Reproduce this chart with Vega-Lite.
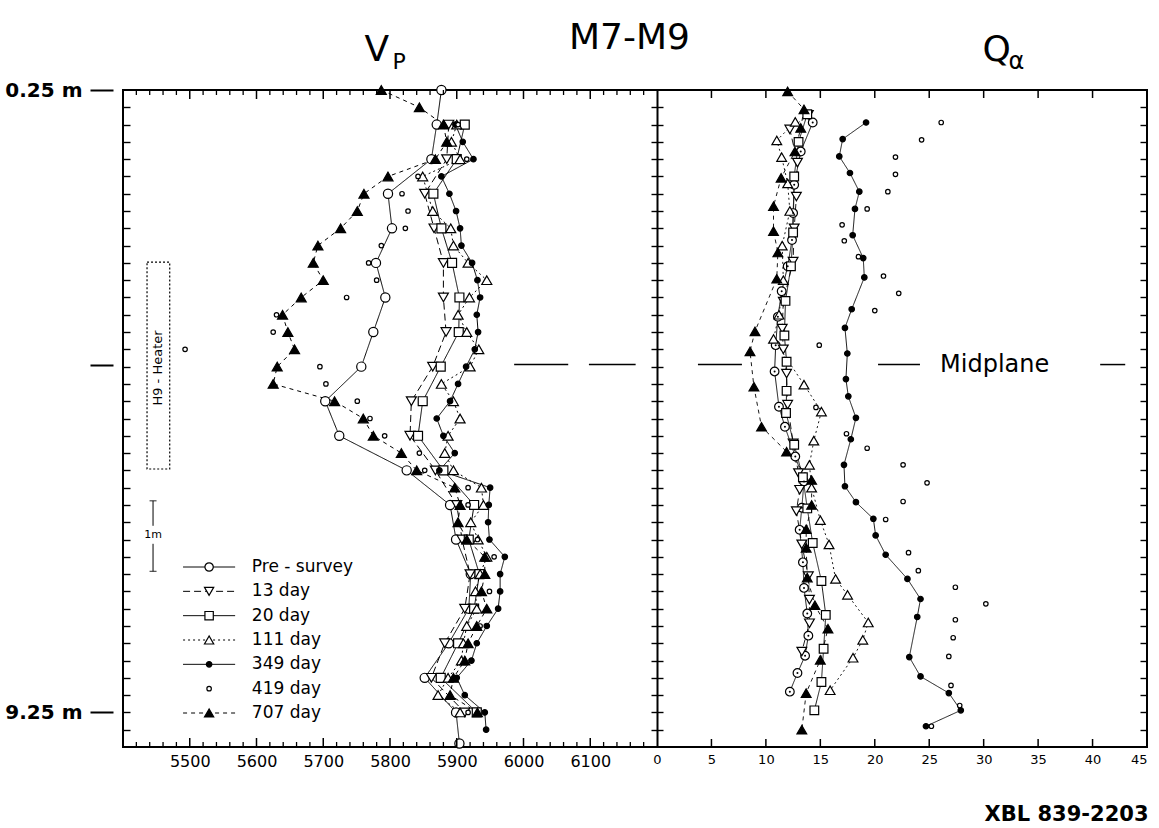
{
  "$schema": "https://vega.github.io/schema/vega-lite/v6.json",
  "width": 1024,
  "height": 657,
  "autosize": {"type": "none"},
  "padding": {"left": 123, "top": 90, "right": 12, "bottom": 81},
  "background": "white",
  "config": {
    "font": "DejaVu Sans",
    "view": {"stroke": "black", "strokeWidth": 2},
    "axis": {"grid": false, "domain": false, "labelFont": "DejaVu Sans", "labelColor": "black", "tickColor": "black", "tickWidth": 1.4, "titleFont": "DejaVu Sans", "titleColor": "black", "titleFontWeight": "normal", "labelFlush": false}
  },
  "datasets": {
    "legend": [{"series":"Pre - survey"},{"series":"13 day"},{"series":"20 day"},{"series":"111 day"},{"series":"349 day"},{"series":"419 day"},{"series":"707 day"}],
    "vpticks": [{"tick":5500,"kind":"major","edges":["top","bottom"]},{"tick":5600,"kind":"major","edges":["top","bottom"]},{"tick":5700,"kind":"major","edges":["top","bottom"]},{"tick":5800,"kind":"major","edges":["top","bottom"]},{"tick":5900,"kind":"major","edges":["top","bottom"]},{"tick":6000,"kind":"major","edges":["top","bottom"]},{"tick":6100,"kind":"major","edges":["top","bottom"]},
      {"tick":5420,"kind":"minor","edges":["top","bottom"]},{"tick":5440,"kind":"minor","edges":["top","bottom"]},{"tick":5460,"kind":"minor","edges":["top","bottom"]},{"tick":5480,"kind":"minor","edges":["top","bottom"]},{"tick":5520,"kind":"minor","edges":["top","bottom"]},{"tick":5540,"kind":"minor","edges":["top","bottom"]},{"tick":5560,"kind":"minor","edges":["top","bottom"]},{"tick":5580,"kind":"minor","edges":["top","bottom"]},{"tick":5620,"kind":"minor","edges":["top","bottom"]},{"tick":5640,"kind":"minor","edges":["top","bottom"]},{"tick":5660,"kind":"minor","edges":["top","bottom"]},{"tick":5680,"kind":"minor","edges":["top","bottom"]},{"tick":5720,"kind":"minor","edges":["top","bottom"]},{"tick":5740,"kind":"minor","edges":["top","bottom"]},{"tick":5760,"kind":"minor","edges":["top","bottom"]},{"tick":5780,"kind":"minor","edges":["top","bottom"]},{"tick":5820,"kind":"minor","edges":["top","bottom"]},{"tick":5840,"kind":"minor","edges":["top","bottom"]},{"tick":5860,"kind":"minor","edges":["top","bottom"]},{"tick":5880,"kind":"minor","edges":["top","bottom"]},{"tick":5920,"kind":"minor","edges":["top","bottom"]},{"tick":5940,"kind":"minor","edges":["top","bottom"]},{"tick":5960,"kind":"minor","edges":["top","bottom"]},{"tick":5980,"kind":"minor","edges":["top","bottom"]},{"tick":6020,"kind":"minor","edges":["top","bottom"]},{"tick":6040,"kind":"minor","edges":["top","bottom"]},{"tick":6060,"kind":"minor","edges":["top","bottom"]},{"tick":6080,"kind":"minor","edges":["top","bottom"]},{"tick":6120,"kind":"minor","edges":["top","bottom"]},{"tick":6140,"kind":"minor","edges":["top","bottom"]},{"tick":6160,"kind":"minor","edges":["top","bottom"]},{"tick":6180,"kind":"minor","edges":["top","bottom"]}],
    "qticks": [{"tick":5,"edges":["top","bottom"]},{"tick":10,"edges":["top","bottom"]},{"tick":15,"edges":["top","bottom"]},{"tick":20,"edges":["top","bottom"]},{"tick":25,"edges":["top","bottom"]},{"tick":30,"edges":["top","bottom"]},{"tick":35,"edges":["top","bottom"]},{"tick":40,"edges":["top","bottom"]}],
    "vp": [
      {"series":"Pre - survey","depth":0.25,"value":5877},{"series":"Pre - survey","depth":0.75,"value":5870},{"series":"Pre - survey","depth":1.25,"value":5862},{"series":"Pre - survey","depth":1.75,"value":5797},{"series":"Pre - survey","depth":2.25,"value":5803},{"series":"Pre - survey","depth":2.75,"value":5779},{"series":"Pre - survey","depth":3.25,"value":5793},{"series":"Pre - survey","depth":3.75,"value":5775},{"series":"Pre - survey","depth":4.25,"value":5757},{"series":"Pre - survey","depth":4.75,"value":5703},{"series":"Pre - survey","depth":5.25,"value":5724},{"series":"Pre - survey","depth":5.75,"value":5825},{"series":"Pre - survey","depth":6.25,"value":5890},{"series":"Pre - survey","depth":6.75,"value":5899},{"series":"Pre - survey","depth":7.25,"value":5921},{"series":"Pre - survey","depth":7.75,"value":5918},{"series":"Pre - survey","depth":8.25,"value":5888},{"series":"Pre - survey","depth":8.75,"value":5852},{"series":"Pre - survey","depth":9.25,"value":5899},{"series":"Pre - survey","depth":9.7,"value":5904},
      {"series":"13 day","depth":0.75,"value":5888},{"series":"13 day","depth":1.25,"value":5885},{"series":"13 day","depth":1.75,"value":5852},{"series":"13 day","depth":2.25,"value":5866},{"series":"13 day","depth":2.75,"value":5880},{"series":"13 day","depth":3.25,"value":5880},{"series":"13 day","depth":3.75,"value":5884},{"series":"13 day","depth":4.25,"value":5864},{"series":"13 day","depth":4.75,"value":5832},{"series":"13 day","depth":5.25,"value":5830},{"series":"13 day","depth":5.75,"value":5868},{"series":"13 day","depth":6.25,"value":5900},{"series":"13 day","depth":6.75,"value":5908},{"series":"13 day","depth":7.25,"value":5920},{"series":"13 day","depth":7.75,"value":5912},{"series":"13 day","depth":8.25,"value":5882},{"series":"13 day","depth":8.75,"value":5862},{"series":"13 day","depth":9.25,"value":5912},
      {"series":"20 day","depth":0.75,"value":5912},{"series":"20 day","depth":1.25,"value":5900},{"series":"20 day","depth":1.75,"value":5865},{"series":"20 day","depth":2.25,"value":5877},{"series":"20 day","depth":2.75,"value":5893},{"series":"20 day","depth":3.25,"value":5904},{"series":"20 day","depth":3.75,"value":5903},{"series":"20 day","depth":4.25,"value":5876},{"series":"20 day","depth":4.75,"value":5849},{"series":"20 day","depth":5.25,"value":5842},{"series":"20 day","depth":5.75,"value":5880},{"series":"20 day","depth":6.25,"value":5926},{"series":"20 day","depth":6.75,"value":5918},{"series":"20 day","depth":7.25,"value":5934},{"series":"20 day","depth":7.75,"value":5926},{"series":"20 day","depth":8.25,"value":5902},{"series":"20 day","depth":8.75,"value":5876},{"series":"20 day","depth":9.25,"value":5930},
      {"series":"111 day","depth":0.75,"value":5900},{"series":"111 day","depth":1.0,"value":5892},{"series":"111 day","depth":1.25,"value":5905},{"series":"111 day","depth":1.5,"value":5849},{"series":"111 day","depth":2.0,"value":5864},{"series":"111 day","depth":2.25,"value":5891},{"series":"111 day","depth":2.5,"value":5895},{"series":"111 day","depth":2.75,"value":5917},{"series":"111 day","depth":3.0,"value":5945},{"series":"111 day","depth":3.25,"value":5919},{"series":"111 day","depth":3.5,"value":5902},{"series":"111 day","depth":3.75,"value":5915},{"series":"111 day","depth":4.0,"value":5933},{"series":"111 day","depth":4.25,"value":5920},{"series":"111 day","depth":4.5,"value":5877},{"series":"111 day","depth":4.75,"value":5895},{"series":"111 day","depth":5.0,"value":5905},{"series":"111 day","depth":5.25,"value":5887},{"series":"111 day","depth":5.5,"value":5882},{"series":"111 day","depth":5.75,"value":5895},{"series":"111 day","depth":6.0,"value":5937},{"series":"111 day","depth":6.25,"value":5940},{"series":"111 day","depth":6.5,"value":5921},{"series":"111 day","depth":6.75,"value":5932},{"series":"111 day","depth":7.0,"value":5945},{"series":"111 day","depth":7.25,"value":5935},{"series":"111 day","depth":7.5,"value":5928},{"series":"111 day","depth":7.75,"value":5930},{"series":"111 day","depth":8.0,"value":5915},{"series":"111 day","depth":8.25,"value":5910},{"series":"111 day","depth":8.5,"value":5907},{"series":"111 day","depth":8.75,"value":5887},{"series":"111 day","depth":9.0,"value":5872},{"series":"111 day","depth":9.25,"value":5905},
      {"series":"349 day","depth":0.75,"value":5898},{"series":"349 day","depth":1.0,"value":5909},{"series":"349 day","depth":1.25,"value":5925},{"series":"349 day","depth":1.5,"value":5877},{"series":"349 day","depth":1.75,"value":5889},{"series":"349 day","depth":2.0,"value":5899},{"series":"349 day","depth":2.25,"value":5905},{"series":"349 day","depth":2.5,"value":5907},{"series":"349 day","depth":2.75,"value":5923},{"series":"349 day","depth":3.0,"value":5931},{"series":"349 day","depth":3.25,"value":5935},{"series":"349 day","depth":3.5,"value":5930},{"series":"349 day","depth":3.75,"value":5932},{"series":"349 day","depth":4.0,"value":5927},{"series":"349 day","depth":4.25,"value":5914},{"series":"349 day","depth":4.5,"value":5902},{"series":"349 day","depth":4.75,"value":5890},{"series":"349 day","depth":5.0,"value":5870},{"series":"349 day","depth":5.25,"value":5880},{"series":"349 day","depth":5.5,"value":5897},{"series":"349 day","depth":5.75,"value":5874},{"series":"349 day","depth":6.0,"value":5950},{"series":"349 day","depth":6.25,"value":5948},{"series":"349 day","depth":6.5,"value":5947},{"series":"349 day","depth":6.75,"value":5949},{"series":"349 day","depth":7.0,"value":5972},{"series":"349 day","depth":7.25,"value":5965},{"series":"349 day","depth":7.5,"value":5965},{"series":"349 day","depth":7.75,"value":5962},{"series":"349 day","depth":8.0,"value":5945},{"series":"349 day","depth":8.25,"value":5930},{"series":"349 day","depth":8.5,"value":5922},{"series":"349 day","depth":8.75,"value":5900},{"series":"349 day","depth":9.0,"value":5912},{"series":"349 day","depth":9.25,"value":5942},{"series":"349 day","depth":9.5,"value":5944},
      {"series":"419 day","depth":0.75,"value":5902},{"series":"419 day","depth":1.25,"value":5915},{"series":"419 day","depth":1.5,"value":5842},{"series":"419 day","depth":1.75,"value":5818},{"series":"419 day","depth":2.0,"value":5827},{"series":"419 day","depth":2.25,"value":5823},{"series":"419 day","depth":2.5,"value":5787},{"series":"419 day","depth":2.75,"value":5768},{"series":"419 day","depth":3.0,"value":5780},{"series":"419 day","depth":3.25,"value":5735},{"series":"419 day","depth":3.5,"value":5630},{"series":"419 day","depth":3.75,"value":5625},{"series":"419 day","depth":4.0,"value":5493},{"series":"419 day","depth":4.25,"value":5695},{"series":"419 day","depth":4.5,"value":5704},{"series":"419 day","depth":4.75,"value":5751},{"series":"419 day","depth":5.0,"value":5770},{"series":"419 day","depth":5.25,"value":5792},{"series":"419 day","depth":5.5,"value":5844},{"series":"419 day","depth":5.75,"value":5852},{"series":"419 day","depth":6.0,"value":5917},{"series":"419 day","depth":6.25,"value":5917},{"series":"419 day","depth":6.75,"value":5931},{"series":"419 day","depth":7.0,"value":5956},{"series":"419 day","depth":7.5,"value":5949},{"series":"419 day","depth":8.0,"value":5935},{"series":"419 day","depth":9.25,"value":5917},
      {"series":"707 day","depth":0.25,"value":5787},{"series":"707 day","depth":0.5,"value":5844},{"series":"707 day","depth":0.75,"value":5880},{"series":"707 day","depth":1.0,"value":5885},{"series":"707 day","depth":1.25,"value":5868},{"series":"707 day","depth":1.5,"value":5797},{"series":"707 day","depth":1.75,"value":5761},{"series":"707 day","depth":2.0,"value":5751},{"series":"707 day","depth":2.25,"value":5726},{"series":"707 day","depth":2.5,"value":5692},{"series":"707 day","depth":2.75,"value":5685},{"series":"707 day","depth":3.0,"value":5700},{"series":"707 day","depth":3.25,"value":5667},{"series":"707 day","depth":3.5,"value":5639},{"series":"707 day","depth":3.75,"value":5647},{"series":"707 day","depth":4.0,"value":5657},{"series":"707 day","depth":4.25,"value":5631},{"series":"707 day","depth":4.5,"value":5625},{"series":"707 day","depth":4.75,"value":5717},{"series":"707 day","depth":5.0,"value":5760},{"series":"707 day","depth":5.25,"value":5775},{"series":"707 day","depth":5.5,"value":5817},{"series":"707 day","depth":5.75,"value":5840},{"series":"707 day","depth":6.0,"value":5897},{"series":"707 day","depth":6.25,"value":5905},{"series":"707 day","depth":6.5,"value":5902},{"series":"707 day","depth":6.75,"value":5915},{"series":"707 day","depth":7.0,"value":5942},{"series":"707 day","depth":7.25,"value":5942},{"series":"707 day","depth":7.5,"value":5937},{"series":"707 day","depth":7.75,"value":5945},{"series":"707 day","depth":8.0,"value":5930},{"series":"707 day","depth":8.25,"value":5917},{"series":"707 day","depth":8.5,"value":5912},{"series":"707 day","depth":8.75,"value":5895},{"series":"707 day","depth":9.0,"value":5890},{"series":"707 day","depth":9.25,"value":5931}
    ],
    "qa": [
      {"series":"Pre - survey","depth":0.72,"value":14.3},{"series":"Pre - survey","depth":1.14,"value":13.2},{"series":"Pre - survey","depth":1.62,"value":12.6},{"series":"Pre - survey","depth":2.03,"value":12.5},{"series":"Pre - survey","depth":2.42,"value":12.4},{"series":"Pre - survey","depth":2.8,"value":12.0},{"series":"Pre - survey","depth":3.16,"value":11.45},{"series":"Pre - survey","depth":3.53,"value":11.1},{"series":"Pre - survey","depth":3.94,"value":10.9},{"series":"Pre - survey","depth":4.32,"value":10.8},{"series":"Pre - survey","depth":4.83,"value":11.2},{"series":"Pre - survey","depth":5.12,"value":11.75},{"series":"Pre - survey","depth":5.55,"value":12.7},{"series":"Pre - survey","depth":5.91,"value":13.5},{"series":"Pre - survey","depth":6.29,"value":13.3},{"series":"Pre - survey","depth":6.61,"value":13.1},{"series":"Pre - survey","depth":7.08,"value":13.4},{"series":"Pre - survey","depth":7.45,"value":13.5},{"series":"Pre - survey","depth":7.82,"value":13.8},{"series":"Pre - survey","depth":8.14,"value":13.9},{"series":"Pre - survey","depth":8.43,"value":13.6},{"series":"Pre - survey","depth":8.68,"value":12.9},{"series":"Pre - survey","depth":8.95,"value":12.2},
      {"series":"13 day","depth":0.61,"value":13.9},{"series":"13 day","depth":0.82,"value":12.2},{"series":"13 day","depth":1.3,"value":12.9},{"series":"13 day","depth":1.79,"value":12.8},{"series":"13 day","depth":2.25,"value":12.6},{"series":"13 day","depth":2.73,"value":12.5},{"series":"13 day","depth":3.31,"value":11.6},{"series":"13 day","depth":3.7,"value":11.5},{"series":"13 day","depth":4.0,"value":11.6},{"series":"13 day","depth":4.35,"value":11.9},{"series":"13 day","depth":4.8,"value":12.0},{"series":"13 day","depth":5.36,"value":12.5},{"series":"13 day","depth":5.79,"value":13.0},{"series":"13 day","depth":6.03,"value":13.1},{"series":"13 day","depth":6.34,"value":12.8},{"series":"13 day","depth":6.82,"value":13.3},{"series":"13 day","depth":7.28,"value":13.9},{"series":"13 day","depth":7.62,"value":14.0},{"series":"13 day","depth":7.96,"value":14.0},{"series":"13 day","depth":8.37,"value":13.3},
      {"series":"20 day","depth":0.6,"value":13.8},{"series":"20 day","depth":1.0,"value":13.0},{"series":"20 day","depth":1.5,"value":12.6},{"series":"20 day","depth":2.31,"value":12.5},{"series":"20 day","depth":2.8,"value":12.3},{"series":"20 day","depth":3.3,"value":11.8},{"series":"20 day","depth":3.8,"value":11.7},{"series":"20 day","depth":4.18,"value":11.9},{"series":"20 day","depth":4.6,"value":11.9},{"series":"20 day","depth":4.92,"value":11.85},{"series":"20 day","depth":5.38,"value":12.6},{"series":"20 day","depth":5.85,"value":13.4},{"series":"20 day","depth":6.3,"value":13.8},{"series":"20 day","depth":6.8,"value":14.3},{"series":"20 day","depth":7.35,"value":15.1},{"series":"20 day","depth":7.84,"value":15.5},{"series":"20 day","depth":8.33,"value":15.3},{"series":"20 day","depth":8.81,"value":15.1},{"series":"20 day","depth":9.22,"value":14.45},
      {"series":"111 day","depth":0.71,"value":12.7},{"series":"111 day","depth":0.98,"value":11.0},{"series":"111 day","depth":1.22,"value":11.45},{"series":"111 day","depth":1.6,"value":12.0},{"series":"111 day","depth":2.0,"value":12.2},{"series":"111 day","depth":2.5,"value":11.5},{"series":"111 day","depth":3.0,"value":11.6},{"series":"111 day","depth":3.5,"value":11.2},{"series":"111 day","depth":3.85,"value":10.7},{"series":"111 day","depth":4.51,"value":13.5},{"series":"111 day","depth":4.9,"value":15.1},{"series":"111 day","depth":5.32,"value":14.4},{"series":"111 day","depth":5.67,"value":14.0},{"series":"111 day","depth":6.0,"value":14.2},{"series":"111 day","depth":6.47,"value":15.0},{"series":"111 day","depth":6.82,"value":15.8},{"series":"111 day","depth":7.32,"value":16.4},{"series":"111 day","depth":7.55,"value":17.5},{"series":"111 day","depth":7.95,"value":19.4},{"series":"111 day","depth":8.2,"value":18.9},{"series":"111 day","depth":8.46,"value":18.0},{"series":"111 day","depth":8.93,"value":15.9},
      {"series":"349 day","depth":0.72,"value":19.2},{"series":"349 day","depth":0.96,"value":17.05},{"series":"349 day","depth":1.21,"value":16.74},{"series":"349 day","depth":1.45,"value":17.72},{"series":"349 day","depth":1.72,"value":18.58},{"series":"349 day","depth":1.97,"value":18.18},{"series":"349 day","depth":2.35,"value":17.97},{"series":"349 day","depth":2.68,"value":18.94},{"series":"349 day","depth":2.96,"value":19.04},{"series":"349 day","depth":3.42,"value":17.88},{"series":"349 day","depth":3.69,"value":17.26},{"series":"349 day","depth":4.06,"value":17.48},{"series":"349 day","depth":4.43,"value":17.35},{"series":"349 day","depth":4.68,"value":17.57},{"series":"349 day","depth":4.99,"value":18.27},{"series":"349 day","depth":5.3,"value":17.8},{"series":"349 day","depth":5.67,"value":17.17},{"series":"349 day","depth":5.98,"value":17.26},{"series":"349 day","depth":6.21,"value":18.27},{"series":"349 day","depth":6.45,"value":19.87},{"series":"349 day","depth":6.69,"value":20.08},{"series":"349 day","depth":6.97,"value":21.0},{"series":"349 day","depth":7.32,"value":23.0},{"series":"349 day","depth":7.61,"value":24.2},{"series":"349 day","depth":7.87,"value":23.9},{"series":"349 day","depth":8.45,"value":23.17},{"series":"349 day","depth":8.73,"value":24.2},{"series":"349 day","depth":8.97,"value":26.8},{"series":"349 day","depth":9.22,"value":27.9},{"series":"349 day","depth":9.45,"value":24.7},
      {"series":"419 day","depth":0.72,"value":26.1},{"series":"419 day","depth":0.97,"value":24.3},{"series":"419 day","depth":1.22,"value":21.9},{"series":"419 day","depth":1.47,"value":21.9},{"series":"419 day","depth":1.72,"value":21.2},{"series":"419 day","depth":1.97,"value":19.3},{"series":"419 day","depth":2.2,"value":17.0},{"series":"419 day","depth":2.43,"value":17.2},{"series":"419 day","depth":2.66,"value":18.5},{"series":"419 day","depth":2.94,"value":20.8},{"series":"419 day","depth":3.19,"value":22.2},{"series":"419 day","depth":3.44,"value":20.0},{"series":"419 day","depth":3.94,"value":14.9},{"series":"419 day","depth":4.84,"value":14.6},{"series":"419 day","depth":5.22,"value":17.4},{"series":"419 day","depth":5.43,"value":19.3},{"series":"419 day","depth":5.67,"value":22.6},{"series":"419 day","depth":5.93,"value":24.8},{"series":"419 day","depth":6.2,"value":22.6},{"series":"419 day","depth":6.46,"value":21.0},{"series":"419 day","depth":6.94,"value":23.1},{"series":"419 day","depth":7.2,"value":24.0},{"series":"419 day","depth":7.44,"value":27.4},{"series":"419 day","depth":7.68,"value":30.2},{"series":"419 day","depth":7.91,"value":27.4},{"series":"419 day","depth":8.17,"value":27.2},{"series":"419 day","depth":8.44,"value":26.8},{"series":"419 day","depth":8.86,"value":27.0},{"series":"419 day","depth":9.15,"value":27.8},{"series":"419 day","depth":9.45,"value":25.2},
      {"series":"707 day","depth":0.27,"value":12.0},{"series":"707 day","depth":0.53,"value":13.5},{"series":"707 day","depth":0.8,"value":13.2},{"series":"707 day","depth":1.14,"value":12.67},{"series":"707 day","depth":1.52,"value":11.4},{"series":"707 day","depth":1.93,"value":10.7},{"series":"707 day","depth":2.29,"value":10.7},{"series":"707 day","depth":2.6,"value":11.1},{"series":"707 day","depth":2.98,"value":11.0},{"series":"707 day","depth":3.74,"value":9.0},{"series":"707 day","depth":4.03,"value":8.54},{"series":"707 day","depth":4.54,"value":8.9},{"series":"707 day","depth":5.12,"value":9.6},{"series":"707 day","depth":5.48,"value":11.9},{"series":"707 day","depth":5.89,"value":14.2},{"series":"707 day","depth":6.25,"value":14.2},{"series":"707 day","depth":6.6,"value":13.7},{"series":"707 day","depth":6.87,"value":13.7},{"series":"707 day","depth":7.3,"value":13.8},{"series":"707 day","depth":7.7,"value":14.5},{"series":"707 day","depth":8.04,"value":15.7},{"series":"707 day","depth":8.49,"value":15.0},{"series":"707 day","depth":8.97,"value":13.7},{"series":"707 day","depth":9.5,"value":13.3}
    ]
  },
  "resolve": {"scale": {"x": "independent", "y": "independent"}, "axis": {"x": "independent", "y": "independent"}},
  "layer": [
    {
      "data": {"name": "vp"},
      "transform": [{"filter": "datum.series !== '419 day'"}],
      "mark": {"type": "line", "color": "black", "strokeWidth": 1},
      "encoding": {
        "x": {"field": "value", "type": "quantitative", "scale": {"domain": [5400, 6200], "range": [0, 534], "nice": false, "zero": false},
              "axis": {"orient": "bottom", "values": [5500,5600,5700,5800,5900,6000,6100], "format": "d", "ticks": false, "labelFontSize": 16, "labelPadding": 6, "title": null}},
        "y": {"field": "depth", "type": "quantitative", "scale": {"domain": [0.25, 9.75], "reverse": true, "nice": false, "zero": false},
              "axis": {"orient": "left", "offset": 10, "values": [0.25, 4.22, 9.25], "tickSize": 23, "tickWidth": 2, "labelExpr": "datum.value == 0.25 ? '0.25 m' : (datum.value == 9.25 ? '9.25 m' : '')", "labelFontSize": 20, "labelFontWeight": "bold", "labelPadding": 8, "title": null}},
        "strokeDash": {"field": "series", "type": "nominal",
              "scale": {"domain": ["Pre - survey","13 day","20 day","111 day","349 day","419 day","707 day"], "range": [[1,0],[7,4],[1,0],[2,3],[1,0],[0,100],[4,4]]}, "legend": null},
        "order": {"field": "depth", "type": "quantitative"}
      }
    },
    {
      "data": {"name": "vp"},
      "mark": {"type": "point", "filled": true, "stroke": "black", "strokeWidth": 1.2, "opacity": 1},
      "encoding": {
        "x": {"field": "value", "type": "quantitative", "scale": {"domain": [5400, 6200], "range": [0, 534], "nice": false, "zero": false}, "axis": null},
        "y": {"field": "depth", "type": "quantitative", "scale": {"domain": [0.25, 9.75], "reverse": true, "nice": false, "zero": false},
              "axis": {"orient": "left", "values": [0.5,0.75,1,1.25,1.5,1.75,2,2.25,2.5,2.75,3,3.25,3.5,3.75,4,4.25,4.5,4.75,5,5.25,5.5,5.75,6,6.25,6.5,6.75,7,7.25,7.5,7.75,8,8.25,8.5,8.75,9,9.25,9.5], "tickSize": -7, "labels": false, "title": null}},
        "shape": {"field": "series", "type": "nominal", "scale": {"domain": ["Pre - survey","13 day","20 day","111 day","349 day","419 day","707 day"], "range": ["circle","triangle-down","square","triangle-up","circle","circle","triangle-up"]}, "legend": null},
        "fill": {"field": "series", "type": "nominal", "scale": {"domain": ["Pre - survey","13 day","20 day","111 day","349 day","419 day","707 day"], "range": ["white","white","white","white","black","white","black"]}, "legend": null},
        "size": {"condition": [{"test": "datum.series === '349 day'", "value": 30}, {"test": "datum.series === '419 day'", "value": 20}, {"test": "datum.series === '20 day'", "value": 80}, {"test": "datum.series === 'Pre - survey'", "value": 85}], "value": 100}
      }
    },
    {
      "data": {"values": [{"from": 5986, "to": 6067, "depth": 4.22}, {"from": 6098, "to": 6168, "depth": 4.22}]},
      "mark": {"type": "rule", "color": "black", "strokeWidth": 1.5},
      "encoding": {
        "x": {"field": "from", "type": "quantitative", "scale": {"domain": [5400, 6200], "range": [0, 534], "nice": false, "zero": false},
              "axis": {"orient": "top", "ticks": false, "labels": false, "title": "V", "titleX": 241, "titleY": -30, "titleAlign": "left", "titleBaseline": "alphabetic", "titleFontSize": 36, "titleAngle": 0}},
        "x2": {"field": "to"},
        "y": {"field": "depth", "type": "quantitative", "scale": {"domain": [0.25, 9.75], "reverse": true, "nice": false, "zero": false},
              "axis": {"orient": "left", "offset": -534, "values": [0.5,0.75,1,1.25,1.5,1.75,2,2.25,2.5,2.75,3,3.25,3.5,3.75,4,4.25,4.5,4.75,5,5.25,5.5,5.75,6,6.25,6.5,6.75,7,7.25,7.5,7.75,8,8.25,8.5,8.75,9,9.25,9.5], "tickSize": 6, "labels": false, "domain": true, "domainColor": "black", "domainWidth": 2, "title": null}}
      }
    },
    {
      "data": {"values": [{"name": "H9 - Heater", "v1": 5436, "v2": 5470, "d1": 2.74, "d2": 5.73, "vm": 5453, "dm": 4.27}]},
      "mark": {"type": "rect", "fill": null, "stroke": "black", "strokeWidth": 1.2, "strokeDash": [2, 2]},
      "encoding": {
        "x": {"field": "v1", "type": "quantitative", "scale": {"domain": [5400, 6200], "range": [0, 534], "nice": false, "zero": false},
              "axis": {"orient": "top", "ticks": false, "labels": false, "title": "P", "titleX": 269, "titleY": -22, "titleAlign": "left", "titleBaseline": "alphabetic", "titleFontSize": 22, "titleAngle": 0}},
        "x2": {"field": "v2"},
        "y": {"field": "d1", "type": "quantitative", "scale": {"domain": [0.25, 9.75], "reverse": true, "nice": false, "zero": false}, "axis": null},
        "y2": {"field": "d2"}
      }
    },
    {
      "data": {"values": [{"name": "H9 - Heater", "v1": 5436, "v2": 5470, "d1": 2.74, "d2": 5.73, "vm": 5453, "dm": 4.27}]},
      "mark": {"type": "text", "angle": 270, "fontSize": 13, "align": "center", "baseline": "middle", "color": "black"},
      "encoding": {
        "x": {"field": "vm", "type": "quantitative", "scale": {"domain": [5400, 6200], "range": [0, 534], "nice": false, "zero": false},
              "axis": {"orient": "top", "ticks": false, "labels": false, "title": "M7-M9", "titleX": 506, "titleY": -42, "titleAlign": "center", "titleBaseline": "alphabetic", "titleFontSize": 36, "titleAngle": 0}},
        "y": {"field": "dm", "type": "quantitative", "scale": {"domain": [0.25, 9.75], "reverse": true, "nice": false, "zero": false}, "axis": null},
        "text": {"field": "name"}
      }
    },
    {
      "data": {"name": "vpticks"},
      "transform": [{"filter": "datum.kind === 'major'"}, {"flatten": ["edges"], "as": ["edge"]}],
      "mark": {"type": "tick", "orient": "vertical", "color": "black", "size": 9, "thickness": 1.5, "opacity": 1},
      "encoding": {
        "x": {"field": "tick", "type": "quantitative", "scale": {"domain": [5400, 6200], "range": [0, 534], "nice": false, "zero": false}, "axis": null},
        "y": {"field": "edge", "type": "nominal", "sort": null, "scale": {"type": "point", "domain": ["top", "bottom"], "range": [4.5, 652.5], "padding": 0}, "axis": null}
      }
    },
    {
      "data": {"name": "vpticks"},
      "transform": [{"filter": "datum.kind === 'minor'"}, {"flatten": ["edges"], "as": ["edge"]}],
      "mark": {"type": "tick", "orient": "vertical", "color": "black", "size": 5, "thickness": 1.3, "opacity": 1},
      "encoding": {
        "x": {"field": "tick", "type": "quantitative", "scale": {"domain": [5400, 6200], "range": [0, 534], "nice": false, "zero": false}, "axis": null},
        "y": {"field": "edge", "type": "nominal", "sort": null, "scale": {"type": "point", "domain": ["top", "bottom"], "range": [2.5, 654.5], "padding": 0}, "axis": null}
      }
    },
    {
      "data": {"name": "qticks"},
      "transform": [{"flatten": ["edges"], "as": ["edge"]}],
      "mark": {"type": "tick", "orient": "vertical", "color": "black", "size": 8, "thickness": 1.5, "opacity": 1},
      "encoding": {
        "x": {"field": "tick", "type": "quantitative", "scale": {"domain": [0, 45], "range": [534, 1024], "nice": false, "zero": false}, "axis": null},
        "y": {"field": "edge", "type": "nominal", "sort": null, "scale": {"type": "point", "domain": ["top", "bottom"], "range": [4, 653], "padding": 0}, "axis": null}
      }
    },
    {
      "data": {"values": [{"label": "1m", "v": 5445, "top": 6.19, "bottom": 7.21}]},
      "mark": {"type": "rule", "color": "black", "strokeWidth": 1, "strokeDash": [25, 18, 40, 0]},
      "encoding": {
        "x": {"field": "v", "type": "quantitative", "scale": {"domain": [5400, 6200], "range": [0, 534], "nice": false, "zero": false}, "axis": null},
        "y": {"field": "top", "type": "quantitative", "scale": {"domain": [0.25, 9.75], "reverse": true, "nice": false, "zero": false}, "axis": null},
        "y2": {"field": "bottom"}
      }
    },
    {
      "data": {"values": [{"label": "1m", "v": 5445, "top": 6.19, "bottom": 7.21}]},
      "mark": {"type": "tick", "orient": "horizontal", "color": "black", "size": 7, "thickness": 1.2},
      "encoding": {
        "x": {"field": "v", "type": "quantitative", "scale": {"domain": [5400, 6200], "range": [0, 534], "nice": false, "zero": false}, "axis": null},
        "y": {"field": "top", "type": "quantitative", "scale": {"domain": [0.25, 9.75], "reverse": true, "nice": false, "zero": false}, "axis": null}
      }
    },
    {
      "data": {"values": [{"label": "1m", "v": 5445, "top": 6.19, "bottom": 7.21}]},
      "mark": {"type": "tick", "orient": "horizontal", "color": "black", "size": 7, "thickness": 1.2},
      "encoding": {
        "x": {"field": "v", "type": "quantitative", "scale": {"domain": [5400, 6200], "range": [0, 534], "nice": false, "zero": false}, "axis": null},
        "y": {"field": "bottom", "type": "quantitative", "scale": {"domain": [0.25, 9.75], "reverse": true, "nice": false, "zero": false}, "axis": null}
      }
    },
    {
      "data": {"values": [{"label": "1m", "v": 5445, "top": 6.19, "bottom": 7.21}]},
      "mark": {"type": "text", "fontSize": 11, "align": "center", "baseline": "middle", "dy": 34, "color": "black"},
      "encoding": {
        "x": {"field": "v", "type": "quantitative", "scale": {"domain": [5400, 6200], "range": [0, 534], "nice": false, "zero": false}, "axis": null},
        "y": {"field": "top", "type": "quantitative", "scale": {"domain": [0.25, 9.75], "reverse": true, "nice": false, "zero": false}, "axis": null},
        "text": {"field": "label"}
      }
    },
    {
      "data": {"name": "legend"},
      "mark": {"type": "rule", "color": "black", "strokeWidth": 1},
      "encoding": {
        "x": {"datum": 5490, "type": "quantitative", "scale": {"domain": [5400, 6200], "range": [0, 534], "nice": false, "zero": false}, "axis": null},
        "x2": {"datum": 5568},
        "y": {"field": "series", "type": "nominal", "sort": null, "scale": {"type": "point", "domain": ["Pre - survey","13 day","20 day","111 day","349 day","419 day","707 day"], "range": [477, 623], "padding": 0}, "axis": null},
        "strokeDash": {"field": "series", "type": "nominal",
              "scale": {"domain": ["Pre - survey","13 day","20 day","111 day","349 day","419 day","707 day"], "range": [[1,0],[7,4],[1,0],[2,3],[1,0],[0,100],[4,4]]}, "legend": null}
      }
    },
    {
      "data": {"name": "legend"},
      "mark": {"type": "point", "filled": true, "stroke": "black", "strokeWidth": 1.2, "opacity": 1},
      "encoding": {
        "x": {"datum": 5529, "type": "quantitative", "scale": {"domain": [5400, 6200], "range": [0, 534], "nice": false, "zero": false}, "axis": null},
        "y": {"field": "series", "type": "nominal", "sort": null, "scale": {"type": "point", "domain": ["Pre - survey","13 day","20 day","111 day","349 day","419 day","707 day"], "range": [477, 623], "padding": 0}, "axis": null},
        "shape": {"field": "series", "type": "nominal", "scale": {"domain": ["Pre - survey","13 day","20 day","111 day","349 day","419 day","707 day"], "range": ["circle","triangle-down","square","triangle-up","circle","circle","triangle-up"]}, "legend": null},
        "fill": {"field": "series", "type": "nominal", "scale": {"domain": ["Pre - survey","13 day","20 day","111 day","349 day","419 day","707 day"], "range": ["white","white","white","white","black","white","black"]}, "legend": null},
        "size": {"condition": [{"test": "datum.series === '349 day'", "value": 30}, {"test": "datum.series === '419 day'", "value": 20}, {"test": "datum.series === '20 day'", "value": 70}, {"test": "datum.series === 'Pre - survey'", "value": 70}], "value": 85}
      }
    },
    {
      "data": {"name": "legend"},
      "mark": {"type": "text", "align": "left", "baseline": "middle", "fontSize": 17, "color": "black"},
      "encoding": {
        "x": {"datum": 5593, "type": "quantitative", "scale": {"domain": [5400, 6200], "range": [0, 534], "nice": false, "zero": false}, "axis": null},
        "y": {"field": "series", "type": "nominal", "sort": null, "scale": {"type": "point", "domain": ["Pre - survey","13 day","20 day","111 day","349 day","419 day","707 day"], "range": [477, 623], "padding": 0}, "axis": null},
        "text": {"field": "series"}
      }
    },
    {
      "data": {"name": "qa"},
      "transform": [{"filter": "datum.series !== '419 day'"}],
      "mark": {"type": "line", "color": "black", "strokeWidth": 0.9},
      "encoding": {
        "x": {"field": "value", "type": "quantitative", "scale": {"domain": [0, 45], "range": [534, 1024], "nice": false, "zero": false},
              "axis": {"orient": "bottom", "values": [0,5,10,15,20,25,30,35,40,45], "ticks": false, "labelFontSize": 13, "labelPadding": 6,
                       "labelAlign": {"condition": {"test": "datum.value == 45", "value": "right"}, "value": "center"},
                       "title": "XBL 839-2203", "titleX": 1025, "titleY": 73, "titleAlign": "right", "titleBaseline": "alphabetic", "titleFontSize": 21, "titleFontWeight": "bold", "titleAngle": 0}},
        "y": {"field": "depth", "type": "quantitative", "scale": {"domain": [0.25, 9.75], "reverse": true, "nice": false, "zero": false},
              "axis": {"orient": "right", "values": [0.5,0.75,1,1.25,1.5,1.75,2,2.25,2.5,2.75,3,3.25,3.5,3.75,4,4.25,4.5,4.75,5,5.25,5.5,5.75,6,6.25,6.5,6.75,7,7.25,7.5,7.75,8,8.25,8.5,8.75,9,9.25,9.5], "tickSize": -7, "labels": false, "title": null}},
        "strokeDash": {"field": "series", "type": "nominal",
              "scale": {"domain": ["Pre - survey","13 day","20 day","111 day","349 day","419 day","707 day"], "range": [[1,0],[7,4],[1,0],[2,3],[1,0],[0,100],[4,4]]}, "legend": null},
        "order": {"field": "depth", "type": "quantitative"}
      }
    },
    {
      "data": {"name": "qa"},
      "mark": {"type": "point", "filled": true, "stroke": "black", "strokeWidth": 1.2, "opacity": 1},
      "encoding": {
        "x": {"field": "value", "type": "quantitative", "scale": {"domain": [0, 45], "range": [534, 1024], "nice": false, "zero": false},
              "axis": {"orient": "top", "ticks": false, "labels": false, "title": "Q", "titleX": 859, "titleY": -30, "titleAlign": "left", "titleBaseline": "alphabetic", "titleFontSize": 36, "titleAngle": 0}},
        "y": {"field": "depth", "type": "quantitative", "scale": {"domain": [0.25, 9.75], "reverse": true, "nice": false, "zero": false},
              "axis": {"orient": "right", "offset": -490, "values": [0.5,0.75,1,1.25,1.5,1.75,2,2.25,2.5,2.75,3,3.25,3.5,3.75,4,4.25,4.5,4.75,5,5.25,5.5,5.75,6,6.25,6.5,6.75,7,7.25,7.5,7.75,8,8.25,8.5,8.75,9,9.25,9.5], "tickSize": 6, "labels": false, "title": null}},
        "shape": {"field": "series", "type": "nominal", "scale": {"domain": ["Pre - survey","13 day","20 day","111 day","349 day","419 day","707 day"], "range": ["circle","triangle-down","square","triangle-up","circle","circle","triangle-up"]}, "legend": null},
        "fill": {"field": "series", "type": "nominal", "scale": {"domain": ["Pre - survey","13 day","20 day","111 day","349 day","419 day","707 day"], "range": ["white","white","white","white","black","white","black"]}, "legend": null},
        "size": {"condition": [{"test": "datum.series === '349 day'", "value": 30}, {"test": "datum.series === '419 day'", "value": 20}, {"test": "datum.series === '20 day'", "value": 75}, {"test": "datum.series === 'Pre - survey'", "value": 75}], "value": 95}
      }
    },
    {
      "data": {"name": "qa"},
      "transform": [{"filter": "datum.series === 'Pre - survey'"}],
      "mark": {"type": "point", "filled": true, "color": "black", "size": 4, "opacity": 1},
      "encoding": {
        "x": {"field": "value", "type": "quantitative", "scale": {"domain": [0, 45], "range": [534, 1024], "nice": false, "zero": false},
              "axis": {"orient": "top", "ticks": false, "labels": false, "title": "α", "titleX": 885, "titleY": -22, "titleAlign": "left", "titleBaseline": "alphabetic", "titleFontSize": 24, "titleAngle": 0}},
        "y": {"field": "depth", "type": "quantitative", "scale": {"domain": [0.25, 9.75], "reverse": true, "nice": false, "zero": false}, "axis": null}
      }
    },
    {
      "data": {"values": [{"from": 3.76, "to": 7.8, "depth": 4.22}, {"from": 20.3, "to": 24.15, "depth": 4.22}, {"from": 40.7, "to": 43.0, "depth": 4.22}]},
      "mark": {"type": "rule", "color": "black", "strokeWidth": 1.5},
      "encoding": {
        "x": {"field": "from", "type": "quantitative", "scale": {"domain": [0, 45], "range": [534, 1024], "nice": false, "zero": false}, "axis": null},
        "x2": {"field": "to"},
        "y": {"field": "depth", "type": "quantitative", "scale": {"domain": [0.25, 9.75], "reverse": true, "nice": false, "zero": false}, "axis": null}
      }
    },
    {
      "data": {"values": [{"label": "Midplane", "value": 26.0, "depth": 4.22}]},
      "mark": {"type": "text", "fontSize": 24, "align": "left", "baseline": "middle", "color": "black"},
      "encoding": {
        "x": {"field": "value", "type": "quantitative", "scale": {"domain": [0, 45], "range": [534, 1024], "nice": false, "zero": false}, "axis": null},
        "y": {"field": "depth", "type": "quantitative", "scale": {"domain": [0.25, 9.75], "reverse": true, "nice": false, "zero": false}, "axis": null},
        "text": {"field": "label"}
      }
    }
  ]
}
